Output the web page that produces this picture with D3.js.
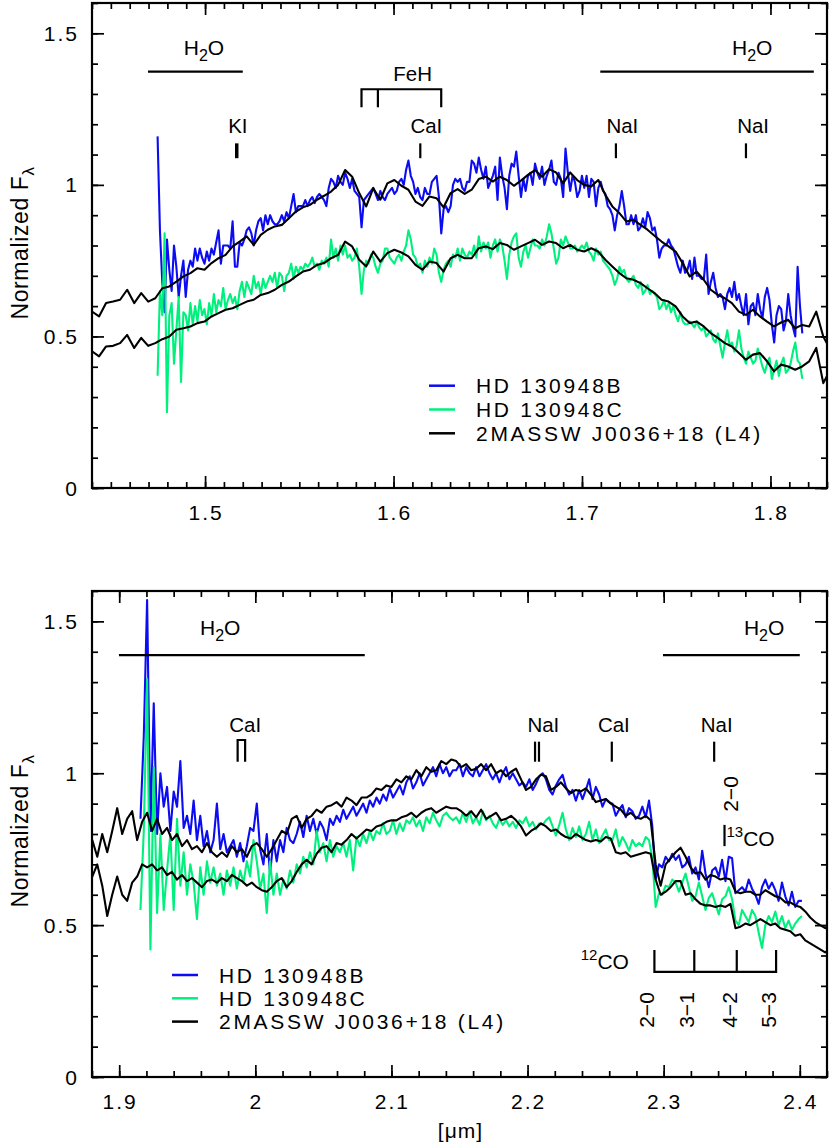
<!DOCTYPE html>
<html><head><meta charset="utf-8">
<script src="https://cdn.jsdelivr.net/npm/d3@7"></script>
<style>
body{margin:0;background:#fff}
svg text{font-family:"Liberation Sans",Arial,sans-serif;fill:#000}
</style></head><body>
<svg id="chart" width="830" height="1144"></svg>
<script>
// ---------------- DATA ----------------
// H band (upper panel)
const hTemplateStart = 1.44, hTemplateStep = 0.003731;
const hTemplateUpper = [
0.582,0.566,0.610,0.615,0.621,0.654,0.610,0.643,0.615,0.626,
0.659,0.665,0.681,0.698,0.709,0.725,0.720,0.742,0.758,0.769,
0.797,0.813,0.830,0.802,0.835,0.852,0.863,0.868,0.890,0.912,
0.926,0.934,0.951,0.964,0.978,1.000,1.049,1.027,0.973,0.929,
0.989,0.951,1.005,1.016,0.997,0.984,0.945,0.931,0.962,0.956,
0.926,0.973,0.986,0.970,0.984,1.019,1.027,1.011,1.027,1.016,
0.997,1.014,1.033,1.049,1.027,1.052,1.041,1.005,1.041,1.016,
1.000,0.995,1.016,0.967,0.929,0.907,0.879,0.885,0.868,0.852,
0.832,0.813,0.797,0.780,0.742,0.698,0.714,0.687,0.654,0.637,
0.626,0.610,0.582,0.571,0.588,0.566,0.549,0.533,0.546,0.555,
0.527,0.538,0.533,0.582,0.500,0.456];
const hTemplateLower = [
0.451,0.434,0.467,0.469,0.478,0.505,0.462,0.495,0.469,0.478,
0.491,0.500,0.522,0.527,0.533,0.544,0.549,0.566,0.577,0.588,
0.593,0.604,0.615,0.621,0.637,0.643,0.654,0.670,0.681,0.698,
0.714,0.720,0.736,0.742,0.758,0.769,0.813,0.797,0.753,0.731,
0.780,0.747,0.775,0.786,0.777,0.764,0.736,0.720,0.747,0.742,
0.714,0.758,0.769,0.758,0.758,0.791,0.797,0.788,0.808,0.802,
0.786,0.797,0.808,0.819,0.802,0.813,0.808,0.791,0.802,0.786,
0.780,0.791,0.780,0.753,0.731,0.709,0.692,0.687,0.676,0.659,
0.643,0.621,0.615,0.599,0.566,0.544,0.549,0.533,0.511,0.495,
0.478,0.467,0.445,0.423,0.440,0.445,0.418,0.385,0.407,0.401,
0.390,0.401,0.418,0.462,0.346,0.390];
const hObjStart = 1.4748, hObjStep = 0.001244;
const hBlue = [
1.16,0.85,0.68,0.58,0.82,0.72,0.65,0.80,0.73,0.63,
0.70,0.75,0.63,0.72,0.75,0.73,0.79,0.75,0.79,0.76,
0.74,0.78,0.75,0.79,0.77,0.81,0.85,0.74,0.80,0.80,
0.80,0.79,0.88,0.73,0.73,0.81,0.80,0.82,0.85,0.86,
0.84,0.80,0.85,0.88,0.89,0.85,0.90,0.87,0.90,0.88,
0.87,0.87,0.88,0.90,0.88,0.91,0.89,0.93,0.97,0.91,
0.93,0.93,0.93,0.95,0.93,0.95,0.96,0.94,0.96,0.97,
0.96,0.95,0.93,0.99,1.02,1.01,0.99,1.03,1.01,1.00,
1.04,1.02,0.99,1.02,0.98,0.97,0.96,0.86,0.95,0.96,
0.97,0.98,0.99,0.97,0.95,0.98,0.96,0.95,0.97,0.98,
0.99,0.97,0.98,1.01,1.02,1.00,1.05,1.08,1.03,1.01,
0.97,0.99,0.96,0.95,0.99,0.97,0.97,1.01,1.02,1.03,
0.96,0.84,0.92,0.93,0.91,0.93,1.00,1.02,1.01,1.02,
0.99,0.98,1.01,1.01,1.08,1.07,1.04,1.09,1.05,1.02,
1.06,0.99,1.01,1.03,1.06,0.95,1.09,1.03,0.99,0.92,
1.03,1.07,1.06,1.11,1.03,0.96,1.02,0.98,1.03,1.04,
1.00,1.07,1.04,1.02,1.06,1.00,1.03,1.05,1.08,1.01,
1.00,1.04,1.02,0.96,1.12,1.04,0.98,1.03,1.01,0.96,
0.98,1.03,0.99,1.03,0.96,1.02,1.01,0.93,0.99,1.01,
0.98,0.97,0.93,0.92,0.90,0.85,0.90,0.93,0.98,0.93,
0.87,0.87,0.90,0.87,0.90,0.85,0.86,0.89,0.86,0.91,
0.89,0.85,0.86,0.82,0.76,0.79,0.80,0.80,0.82,0.80,
0.79,0.76,0.73,0.71,0.75,0.71,0.72,0.75,0.69,0.76,
0.70,0.70,0.69,0.69,0.77,0.64,0.68,0.71,0.66,0.63,
0.64,0.63,0.59,0.64,0.66,0.63,0.68,0.62,0.64,0.60,
0.57,0.64,0.54,0.60,0.61,0.57,0.64,0.59,0.56,0.63,
0.66,0.62,0.54,0.48,0.57,0.60,0.59,0.52,0.55,0.64,
0.57,0.53,0.50,0.73,0.60,0.51];
const hGreen = [
0.37,0.65,0.57,0.84,0.25,0.57,0.61,0.41,0.52,0.63,
0.35,0.58,0.57,0.52,0.61,0.54,0.60,0.55,0.62,0.57,
0.59,0.54,0.61,0.57,0.64,0.58,0.62,0.60,0.66,0.59,
0.62,0.64,0.61,0.63,0.59,0.65,0.68,0.63,0.68,0.66,
0.64,0.70,0.66,0.68,0.64,0.69,0.66,0.68,0.70,0.68,
0.71,0.66,0.71,0.70,0.65,0.70,0.71,0.74,0.69,0.73,
0.71,0.73,0.72,0.74,0.73,0.74,0.76,0.73,0.74,0.72,
0.75,0.74,0.76,0.73,0.82,0.76,0.79,0.75,0.80,0.77,
0.80,0.76,0.77,0.75,0.76,0.79,0.73,0.64,0.72,0.75,
0.74,0.77,0.76,0.73,0.71,0.74,0.75,0.79,0.79,0.76,
0.75,0.74,0.76,0.77,0.75,0.78,0.80,0.85,0.82,0.77,
0.76,0.73,0.74,0.71,0.75,0.73,0.76,0.74,0.79,0.77,
0.71,0.68,0.72,0.74,0.75,0.73,0.77,0.76,0.79,0.75,
0.79,0.77,0.76,0.78,0.77,0.80,0.76,0.83,0.78,0.81,
0.79,0.81,0.76,0.80,0.82,0.78,0.82,0.80,0.75,0.69,
0.77,0.81,0.83,0.84,0.76,0.73,0.78,0.80,0.76,0.79,
0.82,0.80,0.80,0.79,0.82,0.80,0.83,0.87,0.84,0.79,
0.74,0.76,0.82,0.80,0.83,0.81,0.79,0.79,0.80,0.78,
0.79,0.80,0.79,0.81,0.78,0.77,0.75,0.79,0.77,0.78,
0.75,0.74,0.73,0.72,0.70,0.67,0.69,0.73,0.71,0.72,
0.69,0.68,0.69,0.70,0.67,0.66,0.68,0.64,0.65,0.67,
0.64,0.65,0.64,0.63,0.59,0.60,0.62,0.59,0.61,0.58,
0.60,0.57,0.55,0.58,0.55,0.54,0.54,0.55,0.54,0.53,
0.55,0.53,0.52,0.53,0.50,0.51,0.52,0.49,0.48,0.51,
0.47,0.43,0.48,0.52,0.47,0.48,0.45,0.47,0.52,0.46,
0.43,0.41,0.45,0.43,0.41,0.42,0.46,0.43,0.40,0.38,
0.41,0.43,0.36,0.39,0.42,0.37,0.41,0.43,0.38,0.39,
0.41,0.45,0.48,0.42,0.41,0.36];

// K band (lower panel)
const kTemplateStart = 1.8802, kTemplateStep = 0.003663;
const kTemplateUpper = [
0.78,0.725,0.80,0.74,0.81,0.885,0.80,0.85,0.875,0.78,
0.84,0.87,0.81,0.85,0.80,0.82,0.78,0.80,0.76,0.78,
0.75,0.76,0.74,0.77,0.74,0.725,0.74,0.725,0.76,0.74,
0.75,0.725,0.76,0.77,0.75,0.725,0.75,0.78,0.81,0.80,
0.85,0.86,0.82,0.85,0.86,0.88,0.87,0.89,0.895,0.905,
0.89,0.92,0.91,0.895,0.92,0.92,0.93,0.95,0.945,0.96,
0.955,0.98,0.97,0.99,0.98,1.01,0.99,1.02,1.005,1.01,
1.04,1.03,1.045,
1.04,1.02,1.03,1.01,1.015,1.03,1.01,1.03,1.00,1.01,
0.99,1.005,1.015,0.98,0.945,0.955,0.98,0.995,0.99,0.945,
0.955,0.97,0.95,0.935,0.945,0.94,0.95,0.93,0.905,0.91,
0.915,0.90,0.89,0.88,0.86,0.87,0.855,0.85,0.86,0.845,
0.70,0.63,0.70,0.72,0.74,0.755,0.725,0.69,0.67,0.675,
0.65,0.665,0.66,0.65,0.655,0.65,0.61,0.605,0.61,0.61,
0.60,0.60,0.615,0.605,0.595,0.59,0.575,0.575,0.565,0.56,
0.545,0.525,0.51,0.50,0.49,0.495];
const kTemplateLower = [
0.66,0.70,0.63,0.53,0.60,0.66,0.60,0.58,0.64,0.66,
0.70,0.69,0.70,0.68,0.69,0.665,0.675,0.65,0.665,0.645,
0.655,0.64,0.625,0.645,0.65,0.64,0.655,0.645,0.665,0.655,
0.645,0.63,0.64,0.625,0.615,0.61,0.625,0.645,0.655,0.625,
0.645,0.675,0.70,0.715,0.70,0.735,0.755,0.76,0.74,0.77,
0.765,0.78,0.80,0.785,0.80,0.815,0.81,0.825,0.83,0.84,
0.845,0.845,0.855,0.86,0.87,0.855,0.87,0.88,0.885,0.87,
0.88,0.89,0.885,
0.885,0.875,0.86,0.875,0.855,0.88,0.85,0.86,0.87,0.845,
0.85,0.86,0.845,0.825,0.795,0.81,0.82,0.835,0.825,0.81,
0.815,0.80,0.79,0.785,0.80,0.79,0.78,0.775,0.78,0.775,
0.79,0.785,0.74,0.735,0.74,0.725,0.73,0.735,0.74,0.735,
0.65,0.60,0.61,0.625,0.645,0.645,0.60,0.605,0.585,0.57,
0.565,0.565,0.56,0.565,0.56,0.57,0.49,0.495,0.505,0.50,
0.51,0.52,0.51,0.50,0.505,0.49,0.485,0.48,0.465,0.47,
0.45,0.44,0.43,0.42,0.41,0.42];
const kObjStart = 1.9156, kObjStep = 0.002442;
const kBlue = [
0.85,1.12,1.57,0.81,1.23,0.80,1.00,0.89,0.955,0.81,
0.94,0.89,1.04,0.82,0.86,0.80,0.91,0.78,0.86,0.76,
0.81,0.74,0.78,0.90,0.75,0.80,0.74,0.76,0.78,0.725,
0.77,0.71,0.76,0.82,0.81,0.90,0.75,0.70,0.80,0.67,
0.78,0.71,0.78,0.74,0.82,0.78,
0.77,0.80,0.84,0.79,0.86,0.81,0.85,0.80,0.84,0.82,
0.78,0.85,0.83,0.86,0.84,0.88,0.85,0.87,0.89,0.86,
0.88,0.90,0.87,0.91,0.89,0.92,0.90,0.93,0.91,0.95,
0.92,0.94,0.96,0.93,0.97,0.99,0.95,0.97,1.00,0.96,
0.98,1.00,1.02,0.99,1.03,1.00,1.02,0.99,1.01,
1.01,1.03,0.99,1.02,1.00,0.99,1.02,0.99,1.01,1.03,
1.00,0.98,1.00,0.97,1.00,1.02,0.98,1.00,0.98,0.96,
0.97,0.955,0.98,0.945,0.965,0.99,1.00,0.98,0.945,0.93,
0.96,0.98,0.995,0.955,0.93,0.945,0.91,0.945,0.915,0.945,
0.98,0.915,0.955,0.93,0.89,0.915,0.905,0.90,0.86,0.88,
0.895,0.855,0.885,0.875,0.85,0.86,0.89,0.855,0.91,0.825,
0.65,0.70,0.69,0.725,0.71,0.735,0.715,0.73,0.69,0.70,
0.725,0.67,0.69,0.65,0.745,0.67,0.625,0.68,0.69,0.66,
0.715,0.645,0.725,0.72,0.605,0.615,0.625,0.61,0.65,0.62,
0.60,0.57,0.625,0.65,0.62,0.64,0.615,0.58,0.64,0.595,
0.565,0.61,0.56,0.58,0.58];
const kGreen = [
0.55,0.81,1.31,0.42,1.02,0.54,0.80,0.55,0.68,0.80,
0.55,0.85,0.63,0.74,0.60,0.70,0.64,0.52,0.69,0.60,
0.71,0.64,0.69,0.63,0.67,0.60,0.68,0.63,0.69,0.62,
0.68,0.64,0.71,0.66,0.78,0.71,0.62,0.67,0.54,0.71,
0.60,0.67,0.60,0.65,0.62,0.68,0.64,0.70,0.67,0.725,
0.69,0.74,0.70,0.81,0.74,0.77,0.71,0.78,0.725,0.76,
0.74,0.77,0.725,0.78,0.68,0.79,0.76,0.80,0.77,0.81,
0.78,0.81,0.80,0.835,0.80,0.81,0.845,0.80,0.835,0.81,
0.845,0.835,0.855,0.825,0.845,0.81,0.855,0.835,0.87,0.845,
0.825,0.86,0.87,0.855,0.845,
0.855,0.835,0.87,0.84,0.875,0.835,0.855,0.83,0.875,0.845,
0.86,0.835,0.82,0.85,0.83,0.845,0.825,0.84,0.82,0.845,
0.835,0.855,0.825,0.84,0.815,0.835,0.83,0.845,0.855,0.825,
0.795,0.83,0.87,0.815,0.78,0.82,0.79,0.825,0.78,0.80,
0.84,0.78,0.815,0.77,0.795,0.815,0.78,0.78,0.815,0.76,
0.79,0.77,0.745,0.78,0.76,0.77,0.76,0.79,0.78,0.72,
0.56,0.605,0.60,0.63,0.625,0.65,0.64,0.61,0.64,0.67,
0.625,0.58,0.595,0.64,0.595,0.55,0.59,0.605,0.57,0.535,
0.585,0.595,0.625,0.585,0.515,0.50,0.55,0.53,0.51,0.55,
0.53,0.475,0.425,0.50,0.53,0.51,0.545,0.50,0.53,0.49,
0.515,0.485,0.505,0.52,0.53];

// Legend / labels
const seriesNames = ["HD 130948B", "HD 130948C", "2MASSW J0036+18 (L4)"];
const seriesColors = ["#0c0cf2", "#00f07e", "#000000"];
const hXTickLabels = ["1.5", "1.6", "1.7", "1.8"];
const kXTickLabels = ["1.9", "2", "2.1", "2.2", "2.3", "2.4"];
const yTickLabels = ["0", "0.5", "1", "1.5"];

// Feature annotations (wavelength, flux)
const hBands = [{w0:1.4697, w1:1.520, f:1.3735, lw:1.4994, lf:1.4286},
                {w0:1.7097, w1:1.823, f:1.3735, lw:1.7903, lf:1.4286}];
const hMarks = [{t:"KI", w:1.5168, lw:1.5174, bold:true},
                {t:"CaI", w:1.6142, lw:1.6174},
                {t:"NaI", w:1.7180, lw:1.7214},
                {t:"NaI", w:1.7870, lw:1.7908}];
const hFeH = {ws:[1.5830, 1.5917, 1.6253], fTop:1.3154, fBot:1.256, lw:1.6101, lf:1.343};
const kBands = [{w0:1.8998, w1:2.0804, f:1.389, lw:1.9742, lf:1.455},
                {w0:2.2995, w1:2.400, f:1.389, lw:2.3738, lf:1.455}];
const kMarks = [{t:"NaI", ws:[2.2055, 2.2084], lw:2.2116},
                {t:"CaI", ws:[2.2619], lw:2.2634},
                {t:"NaI", ws:[2.3371], lw:2.3390}];
const kCaI = {ws:[1.9870, 1.9925], lw:1.9925};
const co13 = {w:2.3447, f0:0.76, f1:0.83, lblW:2.3549, lblF:0.9317};
const co12 = {ws:[2.2932, 2.3225, 2.3537, 2.3826], labels:["2\u22120","3\u22121","4\u22122","5\u22123"], fTop:0.418, fBot:0.346, lblF:0.2206, nameW:2.2745, nameF:0.3556};

// ---------------- DRAW ----------------
const svg = d3.select("#chart");
const series = (start, step, vals) => vals.map((v, i) => [start + i * step, v]);

function panel(id, x, y, xLabels, ylabelCenterY) {
  const [L, R] = x.range(), [B, T] = y.range();
  const g = svg.append("g");
  g.append("clipPath").attr("id", id).append("rect")
    .attr("x", L).attr("y", T).attr("width", R - L).attr("height", B - T);
  const mk = (axis, tx, ty) => g.append("g").attr("transform", `translate(${tx},${ty})`)
    .call(axis.tickFormat(""))
    .call(s => s.select(".domain").remove())
    .call(s => s.selectAll("line").attr("stroke", "#000").attr("stroke-width", 1.7));
  const xMaj = x.ticks(6).filter(v => xLabels.includes(String(+v.toFixed(2))));
  const xMin = x.ticks(30);
  const yMaj = [0, 0.5, 1, 1.5];
  const yMin = y.ticks(16);
  mk(d3.axisBottom(x).tickValues(xMin).tickSize(-6), 0, B);
  mk(d3.axisBottom(x).tickValues(xMaj).tickSize(-12), 0, B);
  mk(d3.axisTop(x).tickValues(xMin).tickSize(-6), 0, T);
  mk(d3.axisTop(x).tickValues(xMaj).tickSize(-12), 0, T);
  mk(d3.axisLeft(y).tickValues(yMin).tickSize(-6), L, 0);
  mk(d3.axisLeft(y).tickValues(yMaj).tickSize(-12), L, 0);
  mk(d3.axisRight(y).tickValues(yMin).tickSize(-6), R, 0);
  mk(d3.axisRight(y).tickValues(yMaj).tickSize(-12), R, 0);
  g.append("rect").attr("x", L).attr("y", T).attr("width", R - L).attr("height", B - T)
    .attr("fill", "none").attr("stroke", "#000").attr("stroke-width", 2.2);
  // tick labels
  g.selectAll(".xl").data(xMaj).join("text")
    .attr("x", d => x(d) + 1).attr("y", B + 31.5).attr("text-anchor", "middle")
    .attr("font-size", 21).attr("letter-spacing", 2)
    .text((d, i) => xLabels[i]);
  g.selectAll(".yl").data(yMaj).join("text")
    .attr("x", 79).attr("y", d => y(d) + 7.5).attr("text-anchor", "end")
    .attr("font-size", 21).attr("letter-spacing", 2)
    .text((d, i) => yTickLabels[i]);
  const yt = g.append("text").attr("transform", `translate(28,${ylabelCenterY}) rotate(-90)`)
    .attr("text-anchor", "middle").attr("font-size", 23).attr("letter-spacing", 0.6);
  yt.append("tspan").text("Normalized F");
  yt.append("tspan").attr("font-size", 17).attr("dy", 6).text("\u03bb");
  return g;
}

function drawSpectra(g, id, x, y, list) {
  const line = d3.line().x(d => x(d[0])).y(d => y(d[1]));
  const sg = g.append("g").attr("clip-path", `url(#${id})`);
  list.forEach(s => sg.append("path").datum(s.data).attr("d", line)
    .attr("fill", "none").attr("stroke", s.color).attr("stroke-width", 2.1)
    .attr("stroke-linejoin", "round"));
}

function legend(g, x0, y0, dy) {
  seriesNames.forEach((name, i) => {
    const yy = y0 + i * dy;
    g.append("line").attr("x1", x0).attr("x2", x0 + 26).attr("y1", yy).attr("y2", yy)
      .attr("stroke", seriesColors[i]).attr("stroke-width", 2.5);
    g.append("text").attr("x", x0 + 47).attr("y", yy + 7.5).attr("font-size", 21)
      .attr("letter-spacing", 2.7).text(name);
  });
}

function h2o(g, x, y, b) {
  g.append("line").attr("x1", x(b.w0)).attr("x2", x(b.w1)).attr("y1", y(b.f)).attr("y2", y(b.f))
    .attr("stroke", "#000").attr("stroke-width", 2.2);
  const t = g.append("text").attr("x", x(b.lw)).attr("y", y(b.lf)).attr("text-anchor", "middle").attr("font-size", 21);
  t.append("tspan").text("H");
  t.append("tspan").attr("font-size", 16).attr("dy", 6).text("2");
  t.append("tspan").attr("dy", -6).text("O");
}
const vline = (g, xx, y1, y2, w) => g.append("line").attr("x1", xx).attr("x2", xx).attr("y1", y1).attr("y2", y2)
  .attr("stroke", "#000").attr("stroke-width", w || 2.2);
const label = (g, xx, yy, t, anchor) => g.append("text").attr("x", xx).attr("y", yy)
  .attr("text-anchor", anchor || "middle").attr("font-size", 20.5).text(t);

// ---- upper panel
const xH = d3.scaleLinear([1.44, 1.83], [92, 827]);
const yH = d3.scaleLinear([0, 1.6], [488, 3]);
const gH = panel("clipH", xH, yH, hXTickLabels, 243);
drawSpectra(gH, "clipH", xH, yH, [
  {data: series(hObjStart, hObjStep, hBlue), color: seriesColors[0]},
  {data: series(hObjStart, hObjStep, hGreen), color: seriesColors[1]},
  {data: series(hTemplateStart, hTemplateStep, hTemplateUpper), color: seriesColors[2]},
  {data: series(hTemplateStart, hTemplateStep, hTemplateLower), color: seriesColors[2]}
]);
legend(gH, 429, 385.7, 23.8);
hBands.forEach(b => h2o(gH, xH, yH, b));
hMarks.forEach(m => {
  vline(gH, xH(m.w), yH(1.137), yH(1.088), m.bold ? 3.5 : 2.2);
  label(gH, xH(m.lw), yH(1.170), m.t);
});
gH.append("path").attr("fill", "none").attr("stroke", "#000").attr("stroke-width", 2.2)
  .attr("d", `M${xH(hFeH.ws[0])},${yH(hFeH.fBot)}V${yH(hFeH.fTop)}H${xH(hFeH.ws[2])}V${yH(hFeH.fBot)}`);
vline(gH, xH(hFeH.ws[1]), yH(hFeH.fTop), yH(hFeH.fBot));
label(gH, xH(hFeH.lw), yH(hFeH.lf), "FeH");

// ---- lower panel
const xK = d3.scaleLinear([1.88, 2.42], [92, 827]);
const yK = d3.scaleLinear([0, 1.6], [1077, 591]);
const gK = panel("clipK", xK, yK, kXTickLabels, 831);
drawSpectra(gK, "clipK", xK, yK, [
  {data: series(kObjStart, kObjStep, kBlue), color: seriesColors[0]},
  {data: series(kObjStart, kObjStep, kGreen), color: seriesColors[1]},
  {data: series(kTemplateStart, kTemplateStep, kTemplateUpper), color: seriesColors[2]},
  {data: series(kTemplateStart, kTemplateStep, kTemplateLower), color: seriesColors[2]}
]);
legend(gK, 172, 975, 23.3);
kBands.forEach(b => h2o(gK, xK, yK, b));
gK.append("path").attr("fill", "none").attr("stroke", "#000").attr("stroke-width", 2.2)
  .attr("d", `M${xK(kCaI.ws[0])},${yK(1.038)}V${yK(1.1095)}H${xK(kCaI.ws[1])}V${yK(1.038)}`);
label(gK, xK(kCaI.lw), yK(1.137), "CaI");
kMarks.forEach(m => {
  m.ws.forEach(w => vline(gK, xK(w), yK(1.104), yK(1.038)));
  label(gK, xK(m.lw), yK(1.137), m.t);
});
// 13CO
vline(gK, xK(co13.w), yK(co13.f1), yK(co13.f0));
const t13 = gK.append("text").attr("x", xK(co13.w) + 2).attr("y", yK(co13.f0)).attr("font-size", 21);
t13.append("tspan").attr("font-size", 15).attr("dy", -9).text("13");
t13.append("tspan").attr("dy", 9).text("CO");
gK.append("text").attr("transform", `translate(${xK(co13.lblW)},${yK(co13.lblF)}) rotate(-90)`)
  .attr("text-anchor", "middle").attr("font-size", 21).text("2\u22120");
// 12CO
gK.append("path").attr("fill", "none").attr("stroke", "#000").attr("stroke-width", 2.2)
  .attr("d", `M${xK(co12.ws[0])},${yK(co12.fTop)}V${yK(co12.fBot)}H${xK(co12.ws[3])}V${yK(co12.fTop)}`);
co12.ws.slice(1, 3).forEach(w => vline(gK, xK(w), yK(co12.fTop), yK(co12.fBot)));
co12.ws.forEach((w, i) => gK.append("text")
  .attr("transform", `translate(${xK(w)},${yK(co12.lblF)}) rotate(-90)`)
  .attr("text-anchor", "middle").attr("font-size", 21).text(co12.labels[i]));
const t12 = gK.append("text").attr("x", xK(co12.nameW)).attr("y", yK(co12.nameF))
  .attr("text-anchor", "end").attr("font-size", 21);
t12.append("tspan").attr("font-size", 15).attr("dy", -9).text("12");
t12.append("tspan").attr("dy", 9).text("CO");

svg.append("text").attr("x", xK(2.15) + 1).attr("y", 1138).attr("text-anchor", "middle")
  .attr("font-size", 21).attr("letter-spacing", 1).text("[\u03bcm]");
</script>
</body></html>
